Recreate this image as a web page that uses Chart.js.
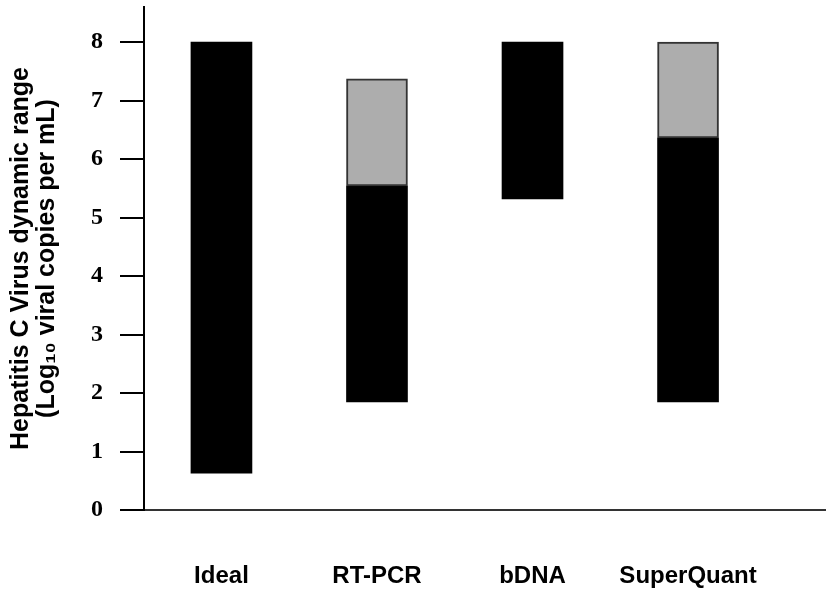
<!DOCTYPE html>
<html>
<head>
<meta charset="utf-8">
<title>HCV dynamic range</title>
<script src="https://cdn.jsdelivr.net/npm/chart.js@4.4.0/dist/chart.umd.min.js"></script>
<style>
  html, body { margin: 0; padding: 0; background: #fff; }
  #wrap { width: 826px; height: 589px; }
</style>
</head>
<body>
<div id="wrap"><canvas id="rangeChart" width="826" height="589"></canvas></div>
<script>
// assay names along the x axis
const categories = ['Ideal', 'RT-PCR', 'bDNA', 'SuperQuant'];

// black part of each bar (log10 copies/mL)
const blackLow = [0.63, 1.85, 5.32, 1.85];
const blackHigh = [8, 5.54, 8, 6.36];

// grey extension on top (null = none)
const greyLow = [null, 5.54, null, 6.36];
const greyHigh = [null, 7.37, null, 8];

const yTicks = [0, 1, 2, 3, 4, 5, 6, 7, 8];

function toRanges(lows, highs) {
  const out = [];
  categories.forEach((c, i) => {
    if (lows[i] !== null && highs[i] !== null) {
      out.push({ x: i, y: [lows[i], highs[i]] });
    }
  });
  return out;
}

const ctx = document.getElementById('rangeChart').getContext('2d');

new Chart(ctx, {
  type: 'bar',
  data: {
    datasets: [
      {
        label: 'Extended',
        data: toRanges(greyLow, greyHigh),
        backgroundColor: '#adadad',
        borderColor: '#333333',
        borderWidth: 2,
        borderSkipped: false,
        barThickness: 61,
        grouped: false
      },
      {
        label: 'Range',
        data: toRanges(blackLow, blackHigh),
        backgroundColor: '#000000',
        borderWidth: 0,
        barThickness: 61,
        grouped: false
      }
    ]
  },
  options: {
    responsive: false,
    animation: false,
    layout: { padding: { top: 7, right: 0, bottom: 0, left: 0 } },
    plugins: {
      legend: { display: false },
      tooltip: { enabled: false }
    },
    scales: {
      x: {
        type: 'linear',
        position: 'bottom',
        offset: false,
        min: -0.498,
        max: 3.887,
        grid: { display: false, drawTicks: false },
        border: { display: true, color: '#333333', width: 2 },
        ticks: {
          padding: 52,
          color: '#000',
          font: { family: 'Liberation Sans, Arial, sans-serif', weight: 'bold', size: 24 },
          callback: value => categories[value]
        },
        afterBuildTicks: axis => {
          axis.ticks = categories.map((c, i) => ({ value: i }));
        },
        afterFit: scale => { scale.height = 79; }
      },
      y: {
        min: 0,
        max: 8.6,
        grid: {
          drawOnChartArea: false,
          drawTicks: true,
          tickLength: 24,
          color: '#000',
          lineWidth: 2
        },
        border: { display: true, color: '#000', width: 2 },
        ticks: {
          padding: 17,
          color: '#000',
          font: { family: 'Liberation Serif, Times New Roman, serif', weight: 'bold', size: 24 }
        },
        afterBuildTicks: axis => {
          axis.ticks = yTicks.map(v => ({ value: v }));
        },
        afterFit: scale => {
          scale.width = 144;
          // labels sit well inside the range, no extra room needed
          scale.paddingTop = 0;
          scale.paddingBottom = 0;
        },
        title: {
          display: true,
          text: ['Hepatitis C Virus dynamic range', '(Log\u2081\u2080 viral copies per mL)'],
          color: '#000',
          font: { family: 'Liberation Sans, Arial, sans-serif', weight: 'bold', size: 25, lineHeight: 1.05 },
          padding: { top: 8, bottom: 0 }
        }
      }
    }
  }
});
</script>
</body>
</html>
